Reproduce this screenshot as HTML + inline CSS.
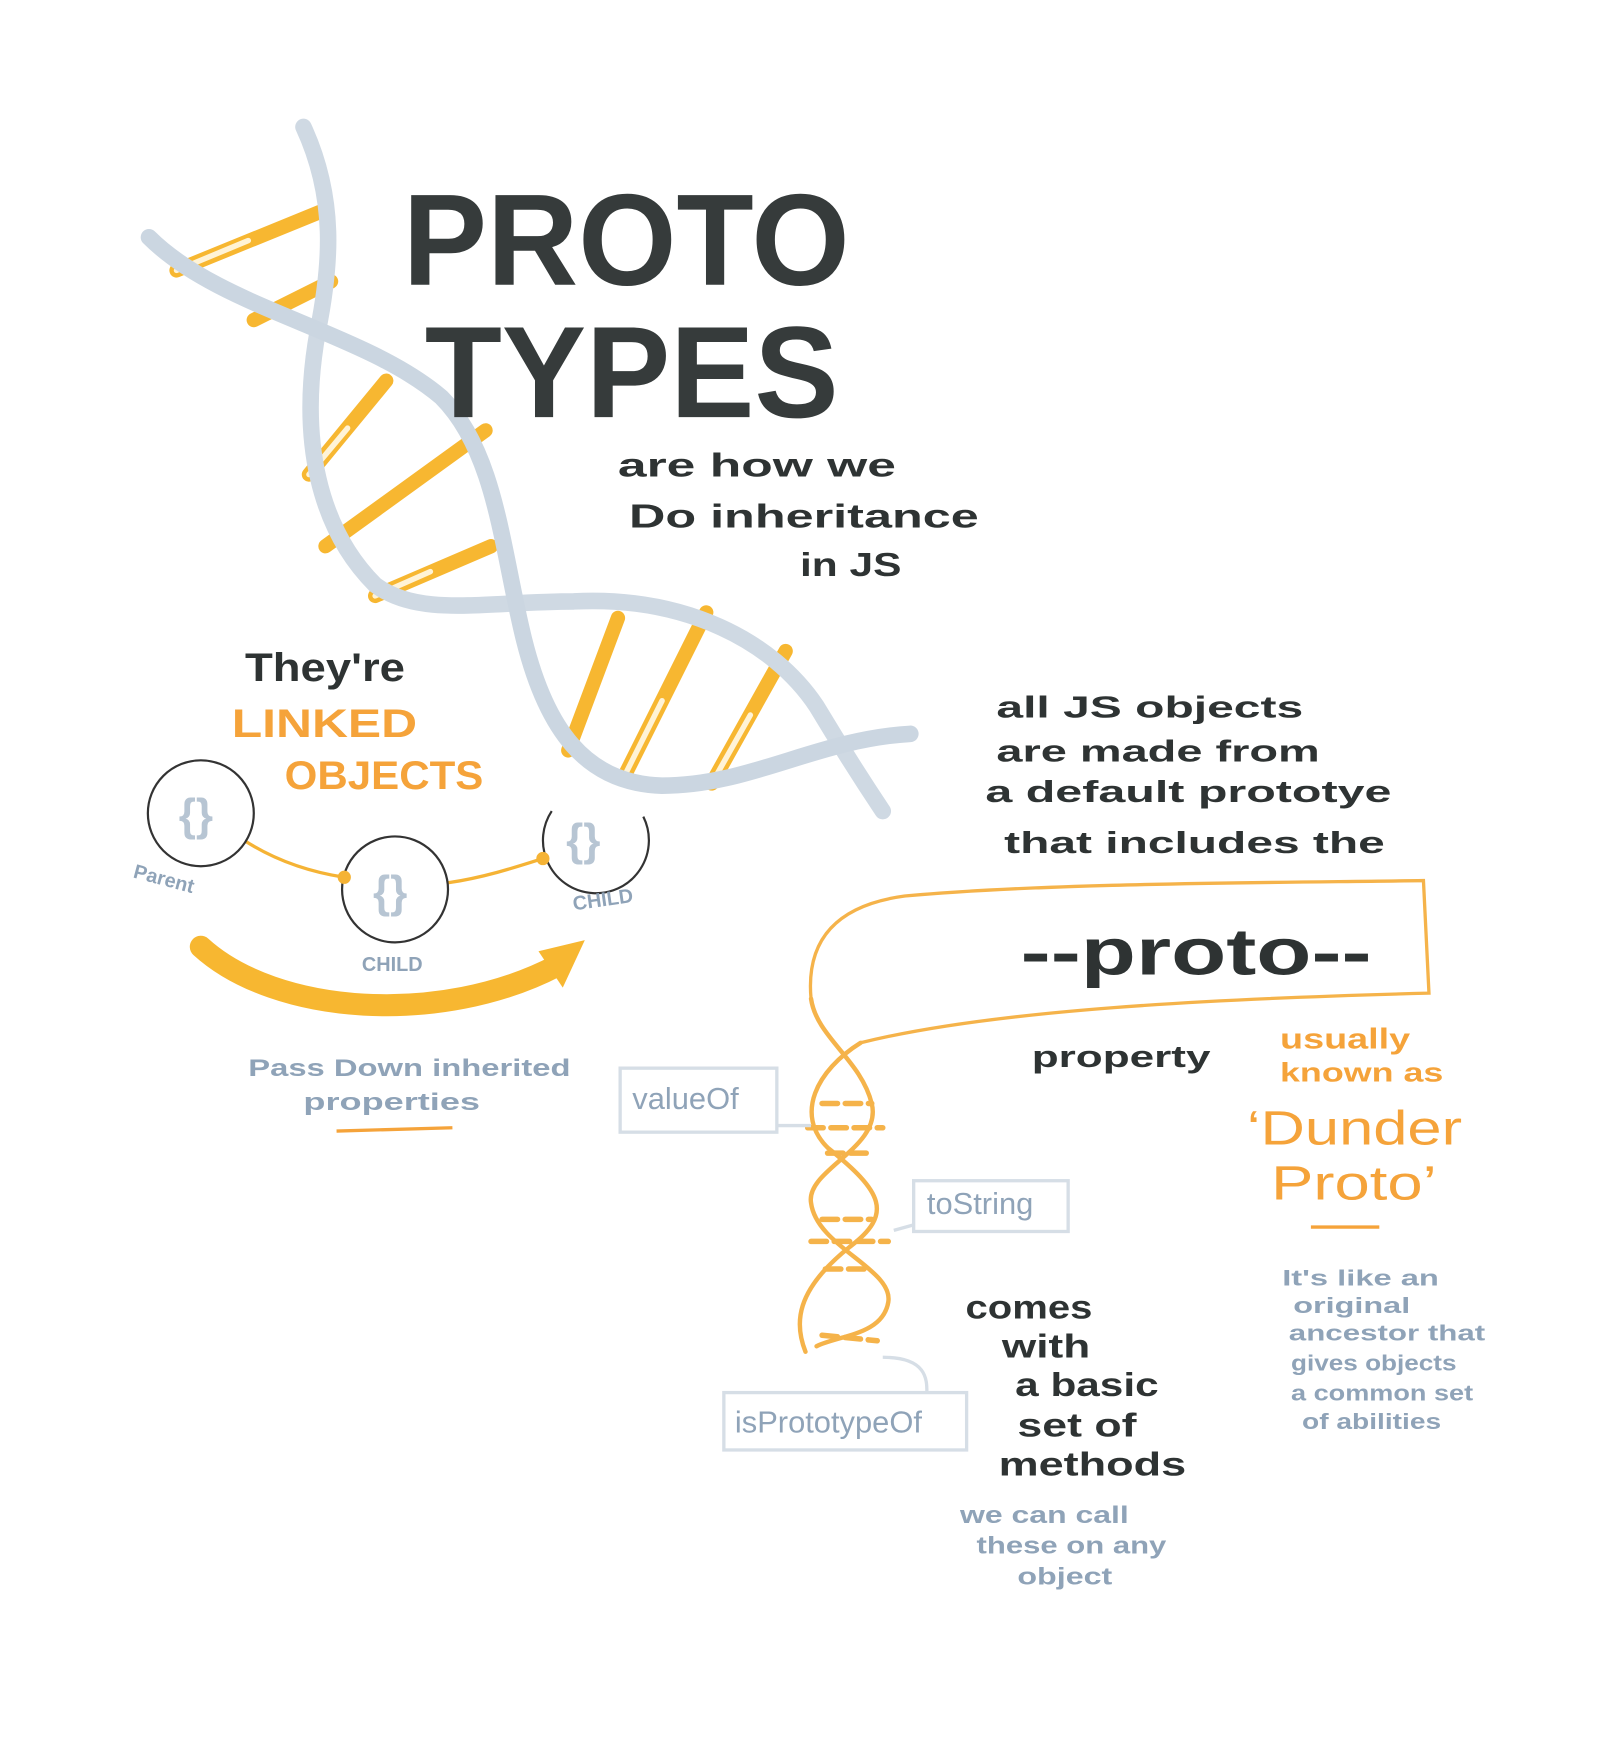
<!DOCTYPE html>
<html><head><meta charset="utf-8"><style>
html,body{margin:0;padding:0;background:#fff;}
svg{display:block}
text{font-family:"Liberation Sans",sans-serif;}
</style></head><body>
<svg width="1600" height="1738" viewBox="0 0 1450 1575" xmlns="http://www.w3.org/2000/svg">
<rect width="1450" height="1575" fill="#fff"/>
<g fill="none" stroke-linecap="round">
  <g stroke="#f7b731" stroke-width="13">
    <line x1="160" y1="245" x2="295" y2="190"/>
    <line x1="230" y1="290" x2="300" y2="255"/>
    <line x1="280" y1="430" x2="350" y2="345"/>
    <line x1="295" y1="495" x2="440" y2="390"/>
    <line x1="340" y1="540" x2="445" y2="495"/>
    <line x1="515" y1="680" x2="560" y2="560"/>
    <line x1="565" y1="705" x2="640" y2="555"/>
    <line x1="645" y1="710" x2="712" y2="590"/>
  </g>
  <g stroke="#fff3d6" stroke-width="5">
    <line x1="160" y1="245" x2="225" y2="218"/>
    <line x1="280" y1="430" x2="315" y2="388"/>
    <line x1="340" y1="540" x2="390" y2="518"/>
    <line x1="565" y1="705" x2="600" y2="635"/>
    <line x1="645" y1="710" x2="680" y2="648"/>
  </g>
  <path d="M275,115 C305,180 300,240 288,300 C270,400 290,480 340,530 C380,560 440,545 520,545 C620,540 700,580 740,640 C770,690 790,720 800,735" stroke="#cfd9e3" stroke-width="15"/>
  <path d="M135,215 C200,280 330,300 400,360 C450,410 455,500 475,580 C495,660 530,710 600,712 C680,712 740,670 825,665" stroke="#cbd6e1" stroke-width="15"/>
</g>
<g fill="#363b3b" font-weight="bold">
  <text x="365" y="258" font-size="118" textLength="405" lengthAdjust="spacingAndGlyphs">PROTO</text>
  <text x="385" y="378" font-size="118" textLength="375" lengthAdjust="spacingAndGlyphs">TYPES</text>
</g>
<g fill="#2e3333" font-weight="bold" font-size="30">
  <text x="560" y="432" textLength="252" lengthAdjust="spacingAndGlyphs">are how we</text>
  <text x="570" y="478" textLength="317" lengthAdjust="spacingAndGlyphs">Do inheritance</text>
  <text x="725" y="522" textLength="92" lengthAdjust="spacingAndGlyphs">in JS</text>
</g>
<g font-weight="bold">
  <text x="222" y="617" font-size="36" fill="#2e3333" textLength="145" lengthAdjust="spacingAndGlyphs">They're</text>
  <text x="210" y="668" font-size="36" fill="#f5a33a" textLength="168" lengthAdjust="spacingAndGlyphs">LINKED</text>
  <text x="258" y="715" font-size="36" fill="#f5a33a" textLength="180" lengthAdjust="spacingAndGlyphs">OBJECTS</text>
</g>
<g fill="none">
  <path d="M222,762 C250,780 280,790 312,795" stroke="#f5b335" stroke-width="3"/>
  <path d="M406,800 C440,795 470,785 492,778" stroke="#f5b335" stroke-width="3"/>
  <circle cx="182" cy="737" r="48" stroke="#333" stroke-width="2"/>
  <circle cx="358" cy="806" r="48" stroke="#333" stroke-width="2"/>
  <path d="M500,735 A48,48 0 1,0 583,740" stroke="#333" stroke-width="2"/>
  <circle cx="312" cy="795" r="6" fill="#f5b335"/>
  <circle cx="492" cy="778" r="6" fill="#f5b335"/>
  <g fill="#b7c5d3" font-size="40" font-weight="bold">
    <text x="162" y="752">{}</text><text x="338" y="822">{}</text><text x="513" y="775">{}</text>
  </g>
  <g fill="#8fa3b8" font-size="18" font-weight="bold">
    <text x="120" y="795" transform="rotate(15 120 795)">Parent</text>
    <text x="328" y="880">CHILD</text>
    <text x="520" y="825" transform="rotate(-8 520 825)">CHILD</text>
  </g>
</g>
<g>
  <path d="M182,858 C250,920 400,930 505,875" fill="none" stroke="#f7b731" stroke-width="20" stroke-linecap="round"/>
  <polygon points="530,852 488,862 510,895" fill="#f7b731"/>
</g>
<g fill="#8fa3b8" font-weight="bold" font-size="22">
  <text x="225" y="975" textLength="292" lengthAdjust="spacingAndGlyphs">Pass Down inherited</text>
  <text x="275" y="1006" textLength="160" lengthAdjust="spacingAndGlyphs">properties</text>
  <line x1="305" y1="1025" x2="410" y2="1022" stroke="#f5a33a" stroke-width="3"/>
</g>
<g fill="#2e3333" font-weight="bold" font-size="28">
  <text x="903" y="650" textLength="278" lengthAdjust="spacingAndGlyphs">all JS objects</text>
  <text x="903" y="690" textLength="293" lengthAdjust="spacingAndGlyphs">are made from</text>
  <text x="893" y="727" textLength="368" lengthAdjust="spacingAndGlyphs">a default prototye</text>
  <text x="910" y="773" textLength="345" lengthAdjust="spacingAndGlyphs">that includes the</text>
</g>
<g fill="none" stroke="#f5b34a" stroke-width="3">
  <path d="M735,905 C730,850 760,820 820,812 C950,800 1150,800 1290,798 L1295,900 C1100,905 900,915 780,945"/>
</g>
<text x="925" y="883" font-size="60" font-weight="bold" fill="#2e3333" textLength="318" lengthAdjust="spacingAndGlyphs">--proto--</text>
<g fill="none" stroke="#f5b34a" stroke-width="4" stroke-linecap="round">
  <path d="M780,945 C740,970 720,1010 750,1040 C800,1080 810,1100 770,1130 C720,1170 720,1200 730,1225"/>
  <path d="M735,905 C740,940 780,960 790,1000 C800,1040 730,1060 735,1090 C740,1130 810,1150 805,1180 C800,1210 760,1210 740,1220"/>
  <g stroke-width="5" stroke-dasharray="14 7">
    <line x1="732" y1="1022" x2="800" y2="1022"/><line x1="745" y1="1000" x2="790" y2="1000"/>
    <line x1="750" y1="1045" x2="785" y2="1045"/><line x1="735" y1="1125" x2="805" y2="1125"/>
    <line x1="745" y1="1105" x2="790" y2="1105"/><line x1="748" y1="1150" x2="790" y2="1150"/>
    <line x1="745" y1="1210" x2="795" y2="1215"/>
  </g>
</g>
<g fill="none" stroke="#d6dee6" stroke-width="3">
  <rect x="562" y="968" width="142" height="58"/>
  <rect x="828" y="1070" width="140" height="46"/>
  <rect x="656" y="1262" width="220" height="52"/>
  <path d="M704,1020 L735,1020 M810,1115 L828,1110 M800,1230 C840,1230 840,1250 840,1262"/>
</g>
<g fill="#8fa3b8" font-size="28">
  <text x="573" y="1005">valueOf</text>
  <text x="840" y="1100">toString</text>
  <text x="666" y="1298">isPrototypeOf</text>
</g>
<text x="935" y="967" font-size="28" font-weight="bold" fill="#2e3333" textLength="162" lengthAdjust="spacingAndGlyphs">property</text>
<g fill="#f5a33a">
  <text x="1160" y="950" font-size="26" font-weight="bold" textLength="118" lengthAdjust="spacingAndGlyphs">usually</text>
  <text x="1160" y="980" font-size="24" font-weight="bold" textLength="148" lengthAdjust="spacingAndGlyphs">known as</text>
  <text x="1130" y="1037" font-size="44" textLength="195" lengthAdjust="spacingAndGlyphs">‘Dunder</text>
  <text x="1152" y="1087" font-size="44" textLength="150" lengthAdjust="spacingAndGlyphs">Proto’</text>
  <line x1="1188" y1="1112" x2="1250" y2="1112" stroke="#f5a33a" stroke-width="3"/>
</g>
<g fill="#2e3333" font-weight="bold" font-size="30">
  <text x="875" y="1195" textLength="115" lengthAdjust="spacingAndGlyphs">comes</text>
  <text x="908" y="1230" textLength="80" lengthAdjust="spacingAndGlyphs">with</text>
  <text x="920" y="1265" textLength="130" lengthAdjust="spacingAndGlyphs">a basic</text>
  <text x="922" y="1302" textLength="108" lengthAdjust="spacingAndGlyphs">set of</text>
  <text x="905" y="1337" textLength="170" lengthAdjust="spacingAndGlyphs">methods</text>
</g>
<g fill="#8fa3b8" font-size="22" font-weight="bold">
  <text x="870" y="1380" textLength="153" lengthAdjust="spacingAndGlyphs">we can call</text>
  <text x="885" y="1408" textLength="172" lengthAdjust="spacingAndGlyphs">these on any</text>
  <text x="922" y="1436" textLength="86" lengthAdjust="spacingAndGlyphs">object</text>
</g>
<g fill="#8fa3b8" font-size="20" font-weight="bold">
  <text x="1162" y="1165" textLength="142" lengthAdjust="spacingAndGlyphs">It's like an</text>
  <text x="1172" y="1190" textLength="106" lengthAdjust="spacingAndGlyphs">original</text>
  <text x="1168" y="1215" textLength="178" lengthAdjust="spacingAndGlyphs">ancestor that</text>
  <text x="1170" y="1242" textLength="150" lengthAdjust="spacingAndGlyphs">gives objects</text>
  <text x="1170" y="1269" textLength="165" lengthAdjust="spacingAndGlyphs">a common set</text>
  <text x="1180" y="1295" textLength="126" lengthAdjust="spacingAndGlyphs">of abilities</text>
</g>
</svg>
</body></html>
